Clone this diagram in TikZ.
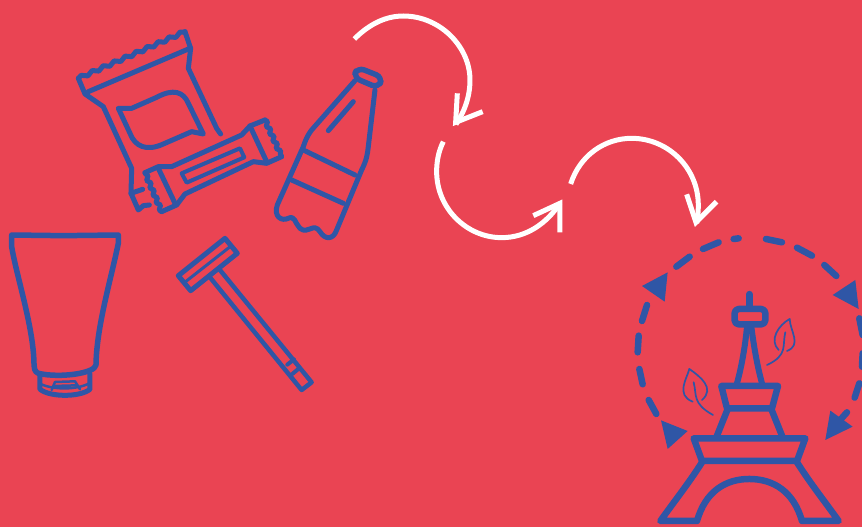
\documentclass[tikz,border=0pt]{standalone}
\usetikzlibrary{decorations.pathmorphing}
\definecolor{bgred}{HTML}{EA4453}
\definecolor{iconblue}{HTML}{2F56A6}
\tikzset{
  icon/.style={draw=iconblue,line width=#1,line join=round,line cap=round},
  icon/.default=5pt,
  leaf/.style={draw=iconblue,line width=1.7pt,line cap=round},
  wavy/.style={decorate,decoration={snake,amplitude=1.6pt,segment length=#1}},
  loopline/.style={draw=white,line width=5pt},
  loophead/.style={draw=white,line width=5pt,miter limit=10},
  marker/.style={fill=iconblue,draw=none},
  zoomA/.style={shift={(60,20)},scale=0.3333},
  zoomB/.style={shift={(0,220)},scale=0.3333},
  zoomC/.style={shift={(622,225)},scale=0.3333},
  zoomD/.style={shift={(340,5)},scale=0.3333}
}
\begin{document}
\begin{tikzpicture}[x=1pt,y=-1pt]
  \useasboundingbox (0,0) rectangle (862,527);
  \clip (0,0) rectangle (862,527);
  \fill[bgred] (0,0) rectangle (862,527);

  % snack bag and bar
  \begin{scope}[zoomA]
    \draw[icon,wavy=12pt] (55,175) -- (375,35);
    \draw[icon] (375,35) -- (392,85) -- (385,145) -- (470,325) -- (482,342);
    \draw[icon] (55,175) -- (75,222) -- (130,260) -- (215,445) -- (213,520) -- (235,570) -- (250,557) -- (268,555);
    \draw[icon] (213,520) -- (248,508);
    \draw[icon] (85,215) -- (390,85);
    \draw[icon] (175,265) -- (215,265) -- (290,232) .. controls (340,205) and (370,215) .. (385,250) -- (430,342) -- (395,335) -- (310,372) .. controls (260,395) and (225,380) .. (210,340) -- cycle;
    \draw[icon] (255,458) -- (295,440) -- (335,440) -- (545,345) -- (570,318) -- (615,300);
    \draw[icon,wavy=8pt] (615,300) -- (665,410);
    \draw[icon] (665,410) -- (620,430) -- (580,425) -- (375,522) -- (350,555) -- (305,575);
    \draw[icon,wavy=8pt] (305,575) -- (255,458);
    \draw[icon] (295,445) -- (345,550);
    \draw[icon] (570,318) -- (620,425);
    \draw[icon=4pt] (365,460) -- (540,385) -- (553,412) -- (380,488) -- cycle;
  \end{scope}

  % bottle
  \begin{scope}[zoomA]
    \draw[icon=5.5pt,rounded corners=7pt] (893,142) -- (968,172) -- (955,204) -- (880,172) -- cycle;
    \draw[icon] (885,182) -- (755,330) .. controls (740,350) and (735,365) .. (730,380) -- (652,555) .. controls (640,590) and (665,605) .. (685,595) .. controls (705,585) and (705,610) .. (720,625) .. controls (745,645) and (760,605) .. (780,635) .. controls (795,660) and (820,660) .. (830,630) -- (905,450) .. controls (920,420) and (922,405) .. (925,380) -- (945,210);
    \draw[icon] (805,332) -- (880,245);
    \draw[icon] (730,390) -- (885,465);
    \draw[icon] (695,480) -- (850,550);
  \end{scope}

  % tube
  \begin{scope}[zoomB]
    \draw[icon=5.5pt] (35,45) -- (190,47) -- (355,45) -- (355,70) .. controls (330,190) and (290,320) .. (288,435) .. controls (285,460) and (180,475) .. (115,460) .. controls (103,455) and (103,445) .. (102,430) .. controls (100,320) and (50,170) .. (35,80) -- cycle;
    \draw[icon] (120,465) -- (120,508) .. controls (150,532) and (240,532) .. (270,508) -- (270,462);
    \draw[icon=2.5pt] (122,492) .. controls (160,510) and (230,510) .. (268,490);
    \draw[icon=2.5pt] (155,510) -- (165,486) -- (225,484) -- (240,508);
    \draw[icon=2.5pt] (160,498) -- (232,496);
  \end{scope}

  % razor
  \begin{scope}[zoomB]
    \draw[icon] (535,167) -- (675,55) -- (712,100) -- (572,212) -- cycle;
    \draw[icon=3pt] (553,188) -- (693,78);
    \draw[icon=4.5pt] (630,172) -- (905,510) -- (935,487) -- (660,150);
    \draw[icon=4pt] (862,434) -- (882,418);
    \draw[icon=4pt] (877,462) -- (895,447);
  \end{scope}

  % white arrows
  \begin{scope}[zoomD]
    \draw[loopline] (43,102) .. controls (90,55) and (140,33) .. (190,33) .. controls (300,33) and (390,125) .. (390,225) .. controls (390,280) and (370,325) .. (348,358);
    \draw[loophead] (352,265) -- (347,352) -- (428,320);
    \draw[loopline] (310,410) .. controls (295,440) and (290,470) .. (290,500) .. controls (290,610) and (380,698) .. (485,698) .. controls (560,698) and (620,655) .. (660,595);
    \draw[loophead] (580,632) -- (660,595) -- (660,682);
    \draw[loopline] (692,537) .. controls (720,450) and (795,400) .. (875,400) .. controls (985,400) and (1075,490) .. (1075,600) .. controls (1075,625) and (1073,640) .. (1070,655);
    \draw[loophead] (1040,568) -- (1068,652) -- (1130,590);
  \end{scope}

  % eiffel tower
  \begin{scope}[zoomC]
    \draw[icon=6.5pt] (240,712) .. controls (200,775) and (160,825) .. (115,888) -- (225,888) .. controls (250,800) and (310,762) .. (382,762) .. controls (455,762) and (515,800) .. (540,888) -- (650,888) .. controls (605,825) and (565,775) .. (525,712);
    \draw[icon=6.5pt] (215,640) -- (550,640) -- (525,708) -- (240,708) -- cycle;
    \draw[icon=6.5pt] (285,632) -- (318,550);
    \draw[icon=6.5pt] (480,632) -- (447,550);
    \draw[icon=6.5pt] (298,483) -- (468,483) -- (450,550) -- (315,550) -- cycle;
    \draw[icon=6pt] (345,475) .. controls (360,420) and (370,360) .. (375,305);
    \draw[icon=6pt] (420,475) .. controls (405,420) and (395,360) .. (388,305);
    \draw[icon=6.5pt,rounded corners=4pt] (338,252) rectangle (430,298);
    \draw[icon=7pt] (382,208) -- (382,248);
    \draw[leaf] (503,282) .. controls (470,300) and (440,345) .. (470,375);
    \draw[leaf] (503,282) .. controls (505,320) and (540,360) .. (495,378);
    \draw[leaf] (490,322) .. controls (480,360) and (500,390) .. (435,420);
    \draw[leaf] (202,432) .. controls (195,460) and (160,510) .. (212,530);
    \draw[leaf] (202,432) .. controls (235,455) and (280,490) .. (240,525);
    \draw[leaf] (215,472) .. controls (225,510) and (210,535) .. (273,570);
  \end{scope}

  % dashed ring
  \begin{scope}[zoomC]
    \foreach \xa/\ya/\xb/\yb in {163/125/203/95, 243/72/290/52, 335/42/350/40, 432/42/480/52, 525/68/570/92, 607/120/643/153, 712/280/722/330, 722/385/720/425, 712/475/698/518, 675/562/650/590, 75/240/60/288, 50/332/47/382, 52/432/62/478, 80/525/103/567}
      \draw[icon=6.5pt] (\xa,\ya) -- (\xb,\yb);
    \fill[marker] (60,183) -- (137,142) -- (128,230) -- cycle;
    \fill[marker] (632,210) -- (700,165) -- (710,252) -- cycle;
    \fill[marker] (625,557) -- (692,605) -- (610,645) -- cycle;
    \fill[marker] (117,586) -- (197,618) -- (137,672) -- cycle;
  \end{scope}
\end{tikzpicture}
\end{document}
